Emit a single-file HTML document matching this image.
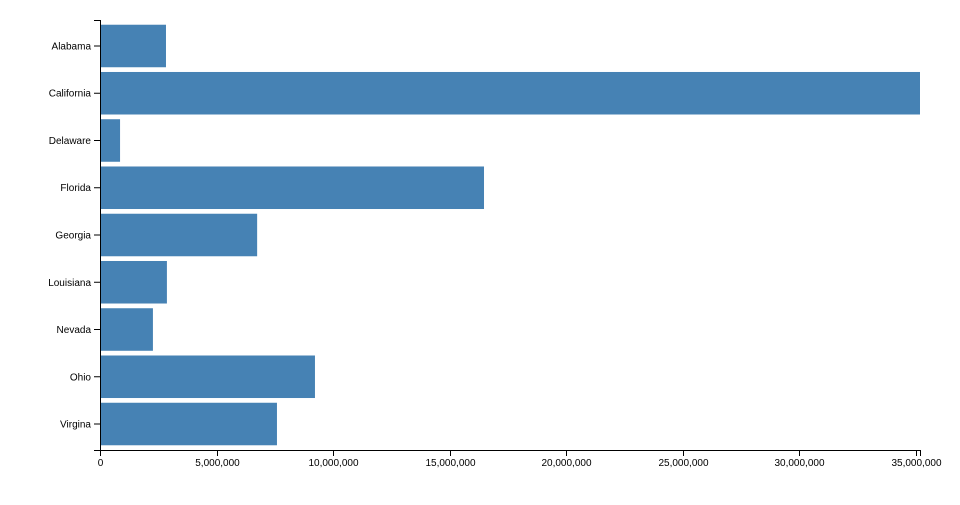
<!DOCTYPE html>
<html><head><meta charset="utf-8"><style>
body{margin:0;background:#fff}
text{font-family:"Liberation Sans",sans-serif;font-size:10px;fill:#000}
</style></head><body>
<svg id="chart" width="960" height="500"></svg>
<script>
const categories=["Alabama","California","Delaware","Florida","Georgia","Louisiana","Nevada","Ohio","Virgina"];
const values=[2830000,35170000,860000,16470000,6740000,2870000,2270000,9220000,7590000];
const xTicks=[0,5000000,10000000,15000000,20000000,25000000,30000000,35000000];
const NS="http://www.w3.org/2000/svg";
const svg=document.getElementById("chart");
const x0=100,x1=920,y0=20,y1=450,maxV=Math.max(...values);
const x=v=>x0+(v/maxV)*(x1-x0);
const step=(y1-y0)/(categories.length+0.1);
const bw=step*0.9;
const yb=i=>y0+step*0.1+i*step;
function mk(t,a){const e=document.createElementNS(NS,t);for(const k in a)e.setAttribute(k,a[k]);svg.appendChild(e);return e;}
categories.forEach((c,i)=>{
  const r=mk("rect",{x:x0,y:yb(i),width:x(values[i])-x0,height:bw,fill:"steelblue"});
  
  
  const cy=yb(i)+bw/2;
  const tk=mk("line",{x1:x0-6,x2:x0,y1:cy,y2:cy,stroke:"#000"});
  
  
  const t=mk("text",{x:x0-9,y:cy+3.5,"text-anchor":"end"});
  t.textContent=c;
  
  
});
const ya=mk("path",{d:`M${x0-6},${y0}.5H${x0}.5V${y1}.5H${x0-6}`,fill:"none",stroke:"#000"});


const xa=mk("path",{d:`M${x0}.5,${y1+6}V${y1}.5H${x1}.5V${y1+6}`,fill:"none",stroke:"#000"});


xTicks.forEach(v=>{
  const px=Math.round(x(v))+0.5;
  const l=mk("line",{x1:px,x2:px,y1:y1,y2:y1+6,stroke:"#000"});
  
  
  const t=mk("text",{x:px,y:y1+16,"text-anchor":"middle"});
  t.textContent=v.toLocaleString("en-US");
  
  
});
</script>
</body></html>
